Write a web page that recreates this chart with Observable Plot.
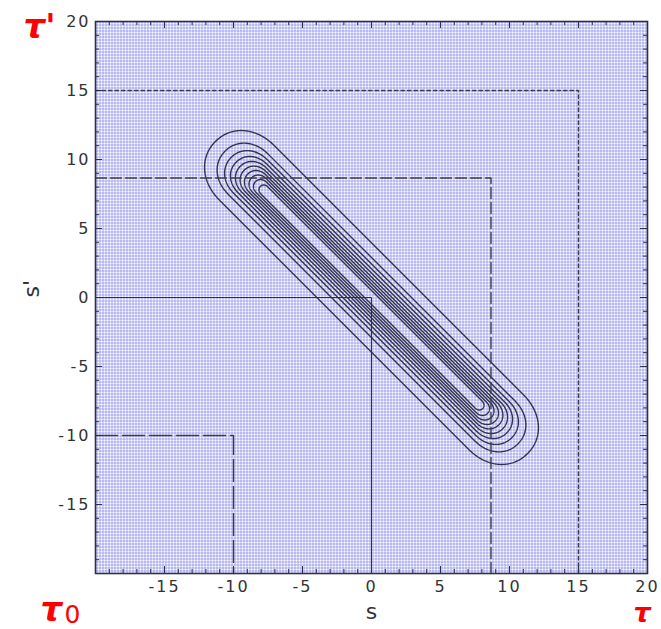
<!DOCTYPE html>
<html>
<head>
<meta charset="utf-8">
<script src="https://cdn.jsdelivr.net/npm/d3@7"></script>
<script src="https://cdn.jsdelivr.net/npm/@observablehq/plot@0.6"></script>
<style>
  html, body { margin: 0; padding: 0; background: #fff; }
  #chart { width: 661px; height: 629px; }
</style>
</head>
<body>
<div id="chart"></div>
<script>
// Axis extents and tick labels
const sDomain = [-20, 20];
const xTickLabels = [-15, -10, -5, 0, 5, 10, 15, 20];
const yTickLabels = [-15, -10, -5, 0, 5, 10, 15, 20];
const majorTicks = [-20, -15, -10, -5, 0, 5, 10, 15, 20];
const minorTicks = d3.range(-20, 21);

// Nested contours of the ridge along s' = -s, outermost first:
// half-width across the ridge, and the s-position of each rounded end's centre
const contourHalfWidth = [2.8, 2.05, 1.72, 1.47, 1.25, 1.05, 0.87, 0.70, 0.53, 0.36];
const contourEndCentre = [9.03, 8.94, 8.76, 8.61, 8.49, 8.37, 8.25, 8.11, 7.97, 7.76];

// Corner guides: each runs from (-20, c) to (c, c) to (c, -20)
const guideCorner = [0, -10, 8.66, 15];
const guideDash   = [null, "22,5", "11,4", "3.5,3"];

// Outline of one contour: straight sides with elliptic end caps,
// built in (u along the ridge, v across it) and rotated into (s, s')
const capPower = 2.1, capStretch = 1.15;
function contourOutline(w, endCentre, level) {
  const uc = endCentre * Math.SQRT2, e = w * capStretch;
  const pts = [];
  const push = (u, v) => pts.push({s: (u + v) / Math.SQRT2, sp: (v - u) / Math.SQRT2, level});
  const sp = (t) => Math.sign(t) * Math.pow(Math.abs(t), 2 / capPower);
  const n = 120;
  // side v = +w, from -uc to +uc
  push(-uc, w); push(uc, w);
  // cap at +u
  for (let i = 1; i < n; i++) {
    const phi = Math.PI / 2 - (i / n) * Math.PI;
    push(uc + e * sp(Math.cos(phi)), w * sp(Math.sin(phi)));
  }
  // side v = -w, back to -uc
  push(uc, -w); push(-uc, -w);
  // cap at -u
  for (let i = 1; i < n; i++) {
    const phi = -Math.PI / 2 - (i / n) * Math.PI;
    push(-uc + e * sp(Math.cos(phi)), w * sp(Math.sin(phi)));
  }
  push(-uc, w);
  return pts;
}
const contourPoints = contourHalfWidth.flatMap((w, k) => contourOutline(w, contourEndCentre[k], k));

function guidePath(c) {
  return [{s: sDomain[0], sp: c}, {s: c, sp: c}, {s: c, sp: sDomain[0]}];
}

const W = 661, H = 629;
const mL = 95, mR = 14, mT = 21, mB = 56;
const frameH = H - mT - mB, frameW = W - mL - mR;
const axisInk = "#2e2e52";
const lineInk = "#33334d";

const guideMarks = guideCorner.map((c, i) =>
  Plot.line(guidePath(c), {
    x: "s", y: "sp",
    stroke: i === 0 ? "#2a2a66" : "#3c3c50",
    strokeWidth: i === 0 ? 1 : 1.4,
    strokeDasharray: guideDash[i] || undefined
  })
);

const isMajor = d => majorTicks.includes(d);
const minorOnly = minorTicks.filter(d => !isMajor(d));

const plot = Plot.plot({
  width: W, height: H,
  marginLeft: mL, marginRight: mR, marginTop: mT, marginBottom: mB,
  x: {domain: sDomain},
  y: {domain: sDomain},
  style: {fontFamily: "DejaVu Sans", fontSize: "16px", background: "#fff", color: "#333"},
  marks: [
    Plot.frame({fill: "url(#bgdots)", stroke: "none"}),
    Plot.line(contourPoints, {x: "s", y: "sp", z: "level", stroke: lineInk, strokeWidth: 1.4, curve: "linear"}),
    ...guideMarks,
    // inward ticks on all four sides
    Plot.ruleX(minorOnly, {x: d => d, insetTop: frameH - 4, stroke: axisInk}),
    Plot.ruleX(majorTicks, {x: d => d, insetTop: frameH - 7, stroke: axisInk}),
    Plot.ruleX(minorOnly, {x: d => d, insetBottom: frameH - 4, stroke: axisInk}),
    Plot.ruleX(majorTicks, {x: d => d, insetBottom: frameH - 7, stroke: axisInk}),
    Plot.ruleY(minorOnly, {y: d => d, insetRight: frameW - 4, stroke: axisInk}),
    Plot.ruleY(majorTicks, {y: d => d, insetRight: frameW - 7, stroke: axisInk}),
    Plot.ruleY(minorOnly, {y: d => d, insetLeft: frameW - 4, stroke: axisInk}),
    Plot.ruleY(majorTicks, {y: d => d, insetLeft: frameW - 7, stroke: axisInk}),
    Plot.frame({stroke: axisInk, strokeWidth: 1.6}),
    Plot.axisX({ticks: xTickLabels, tickSize: 0, tickPadding: 7, tickFormat: d => String(d), label: null, color: "#333"}),
    Plot.axisY({ticks: yTickLabels, tickSize: 0, tickPadding: 5, tickFormat: d => String(d), label: null, color: "#333"}),
    // axis titles
    Plot.text(["s"], {frameAnchor: "bottom", dy: 45, lineAnchor: "bottom", fontSize: 22, fill: "#333"}),
    Plot.text(["s'"], {frameAnchor: "left", dx: -57, rotate: -90, lineAnchor: "bottom", fontSize: 22, fill: "#333"}),
    // time labels in red
    Plot.text(["\u03c4'"], {frameAnchor: "top-left", dx: -72, dy: 16, textAnchor: "start", lineAnchor: "bottom", fontSize: 34, fontWeight: "bold", fontStyle: "italic", fill: "#ff0000"}),
    Plot.text(["\u03c4"], {frameAnchor: "bottom-left", dx: -55, dy: 47, textAnchor: "start", lineAnchor: "bottom", fontSize: 34, fontWeight: "bold", fontStyle: "italic", fill: "#ff0000"}),
    Plot.text(["0"], {frameAnchor: "bottom-left", dx: -31, dy: 49, textAnchor: "start", lineAnchor: "bottom", fontSize: 25, fill: "#ff0000"}),
    Plot.text(["\u03c4"], {frameAnchor: "bottom-right", dx: -14, dy: 48, textAnchor: "start", lineAnchor: "bottom", fontSize: 27, fontWeight: "bold", fontStyle: "italic", fill: "#ff0000"})
  ]
});

// dotted fill pattern for the plotting area
const svg = plot.tagName.toLowerCase() === "svg" ? plot : plot.querySelector("svg");
const defs = d3.select(svg).insert("defs", ":first-child");
const pat = defs.append("pattern")
  .attr("id", "bgdots").attr("patternUnits", "userSpaceOnUse")
  .attr("width", 3).attr("height", 3);
pat.append("rect").attr("width", 3).attr("height", 3).attr("fill", "#ffffff");
pat.append("rect").attr("width", 1).attr("height", 3).attr("fill", "#aeb0f0");
pat.append("rect").attr("width", 3).attr("height", 1).attr("fill", "#aeb0f0");
pat.append("rect").attr("width", 1).attr("height", 1).attr("fill", "#8488e2");

d3.select(svg).selectAll('g[aria-label="x-axis tick label"], g[aria-label="y-axis tick label"]')
  .attr("letter-spacing", "2");

document.getElementById("chart").appendChild(plot);
</script>
</body>
</html>
